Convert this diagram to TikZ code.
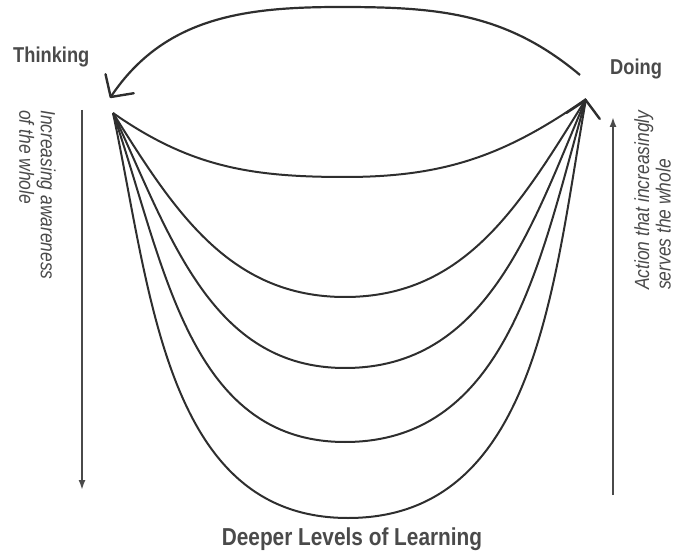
\documentclass[tikz,border=0pt]{standalone}
\usepackage{fontspec}
\setmainfont{Liberation Sans}[FakeStretch=0.85]
\usepackage{tikz}
\usetikzlibrary{arrows.meta,positioning}
\definecolor{Ink}{HTML}{2E2E2E}
\definecolor{Soft}{HTML}{4A4A4A}
\tikzset{
  loopline/.style={draw=Ink,line width=2.2pt},
  bowl/.style={draw=Ink,line width=2pt},
  barb/.style={-{Straight Barb[length=16pt,width=34pt,line width=2.4pt,round]}},
  axis/.style={draw=Soft,line width=1.8pt,-{Latex[length=10pt,width=7pt]}},
  pole/.style={font=\fontsize{21.5}{24}\selectfont\bfseries,text=Soft,inner sep=0pt},
  sidetext/.style={font=\fontsize{20.5}{21.5}\selectfont\itshape,text=Soft,align=left,inner sep=0pt}
}
\begin{document}
\begin{tikzpicture}[x=1pt,y=1pt]
        \useasboundingbox (0,0) rectangle (676,554);
        % end points of the cycle
        \coordinate (think) at (113,441);
        \coordinate (do) at (586,455);
        \coordinate (loopstart) at (580,479);
        \coordinate (looptop) at (340,547);
        \coordinate (loopend) at (110,456);
        % lowest points of the bowls
        \coordinate (b1) at (345,377);
        \coordinate (b2) at (345,257);
        \coordinate (b3) at (345,186);
        \coordinate (b4) at (345,112);
        \coordinate (b5) at (348,36);
        \node[pole,anchor=base west] (thinking) at (13,491) {Thinking};
        \node[pole,anchor=base west] (doing) at (610,479) {Doing};
        \node[pole,anchor=base,font=\fontsize{24.5}{26}\selectfont\bfseries] (deeper) at (352,9) {Deeper Levels of Learning};
        \draw[loopline,barb] (loopstart) to[out=140,in=0] (looptop) to[out=180,in=56] (loopend);
        \draw[bowl] (think) to[out=-35,in=180] (b1) to[out=0,in=-145] (do);
        \draw[bowl] (think) to[out=-58,in=180] (b2) to[out=0,in=-122] (do);
        \draw[bowl] (think) to[out=-65,in=180] (b3) to[out=0,in=-113] (do);
        \draw[bowl] (think) to[out=-71,in=180] (b4) to[out=0,in=-106] (do);
        \draw[bowl,barb] (think) to[out=-78,in=180] (b5) to[out=0,in=-100] (do);
        % side arrows
        \coordinate (awtop) at (82,444);
        \coordinate (awbot) at (82,64);
        \coordinate (acbot) at (613,59);
        \coordinate (actop) at (613,437);
        \draw[axis] (awtop) -- (awbot);
        \draw[axis] (acbot) -- (actop);
        \node[sidetext,rotate=-90,anchor=north west] (aware) at (56,444) {Increasing awareness\\of the whole};
        \node[sidetext,rotate=90,anchor=north west] (action) at (634,264) {Action that increasingly\\serves the whole};
      \end{tikzpicture}
\end{document}
